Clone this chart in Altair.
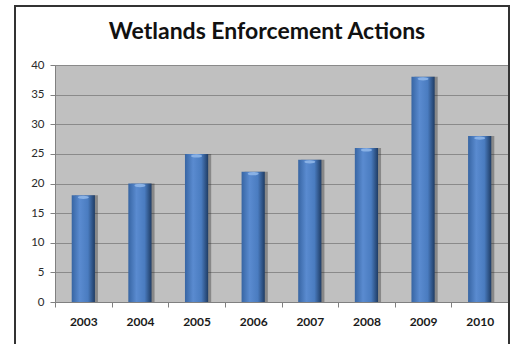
import altair as alt
import pandas as pd

years = ["2003", "2004", "2005", "2006", "2007", "2008", "2009", "2010"]
actions = [18, 20, 25, 22, 24, 26, 38, 28]
y_ticks = [0, 5, 10, 15, 20, 25, 30, 35, 40]
title_text = "Wetlands Enforcement Actions"

df = pd.DataFrame({"year": years, "actions": actions})

FONT = "Lato"

x_enc = alt.X(
    "year:N",
    sort=years,
    title=None,
    scale=alt.Scale(paddingInner=0, paddingOuter=0),
    axis=alt.Axis(
        labelAngle=0,
        labelFont=FONT,
        labelFontWeight="bold",
        labelFontSize=12,
        labelColor="#1a1a1a",
        labelPadding=9,
        tickBand="extent",
        ticks=True,
        tickSize=5,
        tickColor="#808080",
        domainColor="#808080",
        grid=False,
    ),
)
y_enc = alt.Y(
    "actions:Q",
    title=None,
    scale=alt.Scale(domain=[0, 40], nice=False),
    axis=alt.Axis(
        values=y_ticks,
        labelFont=FONT,
        labelFontSize=11.5,
        labelColor="#2a2a2a",
        labelPadding=6,
        tickSize=5,
        tickColor="#808080",
        domainColor="#808080",
        grid=True,
        gridColor="#8a8a8a",
        gridWidth=1,
    ),
)

base = alt.Chart(df)
one = alt.Chart(pd.DataFrame({"t": [title_text]}))

frame = one.mark_rect(
    fill=None, fillOpacity=0, stroke="#333333", strokeWidth=2
).encode(
    x=alt.value(-40), x2=alt.value(454), y=alt.value(-59), y2=alt.value(300)
)

title = one.mark_text(
    font=FONT, fontSize=23, fontWeight="bold", color="#111111",
    align="center", baseline="alphabetic"
).encode(
    text="t:N", x=alt.value(212), y=alt.value(-26)
)

shadow = base.mark_bar(
    color="#202020", opacity=0.35, width=alt.RelativeBandSize(0.41), xOffset=3
).encode(x=x_enc, y=y_enc)

grad = alt.Gradient(
    gradient="linear",
    x1=0, x2=1, y1=0, y2=0,
    stops=[
        alt.GradientStop(offset=0, color="#3765a3"),
        alt.GradientStop(offset=0.35, color="#5a8bd0"),
        alt.GradientStop(offset=0.7, color="#4a7cc0"),
        alt.GradientStop(offset=1, color="#1f3c64"),
    ],
)

bars = base.mark_bar(
    color=grad, width=alt.RelativeBandSize(0.41)
).encode(x=x_enc, y=y_enc)

cap_shape = "M -1 0 A 1 0.3 0 1 0 1 0 A 1 0.3 0 1 0 -1 0 Z"
caps = base.mark_point(
    shape=cap_shape, filled=True, color="#8fb6e8", size=120, opacity=0.9, yOffset=2
).encode(x=x_enc, y=y_enc)

chart = alt.layer(frame, title, shadow, bars, caps).properties(
    width=453,
    height=237,
    padding={"left": 55, "top": 65, "right": 14, "bottom": 42},
    autosize=alt.AutoSizeParams(type="none"),
    background="white",
).configure_view(
    fill="#c0c0c0", stroke=None
)

chart.save("out.html", embed_options={"renderer": "svg", "actions": False})
